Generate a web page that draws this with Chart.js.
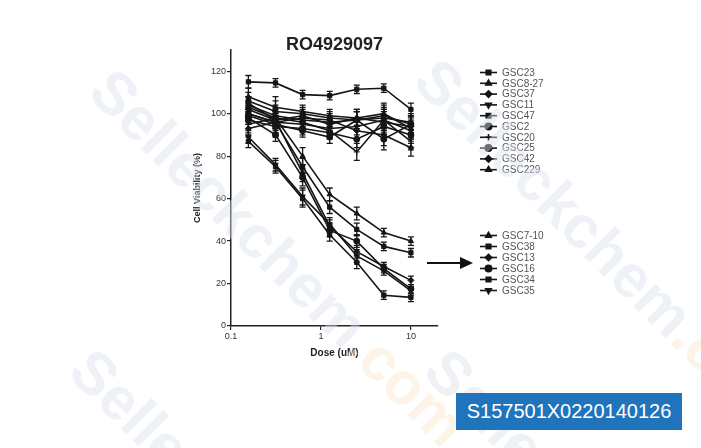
<!DOCTYPE html>
<html>
<head>
<meta charset="utf-8">
<script src="https://cdn.jsdelivr.net/npm/chart.js@4.4.0/dist/chart.umd.min.js"></script>
<style>
  body { margin: 0; background: #fff; font-family: "Liberation Sans", Arial, sans-serif; }
  #wrap { position: relative; width: 701px; height: 448px; overflow: hidden; }
  .wm { position: absolute; font-family: "Liberation Sans Narrow", "Liberation Sans", Arial, sans-serif; font-weight: bold; font-size: 60px;
        color: rgba(218, 226, 238, 0.45); transform-origin: 0 0; transform: rotate(45deg); white-space: nowrap; pointer-events: none; }
  .wm span { color: rgba(250, 228, 200, 0.45); }
  #badge { position: absolute; left: 456px; top: 393px; width: 226px; height: 37px; background: #1f74bb;
           color: #fff; font-size: 20px; line-height: 37px; text-align: center; }
</style>
</head>
<body>
<div id="wrap">
  <canvas id="chart" width="701" height="448"></canvas>
  <div class="wm" style="left:125px; top:55px;">Selleckchem<span>.com</span></div>
  <div class="wm" style="left:450px; top:45px;">Selleckchem<span>.com</span></div>
  <div class="wm" style="left:105px; top:335px;">Selleckchem<span>.com</span></div>
  <div class="wm" style="left:460px; top:335px;">Selleckchem<span>.com</span></div>
  <div id="badge">S157501X0220140126</div>
</div>
<script>
// doses in uM (x axis, log scale)
const doses = [0.156, 0.3125, 0.625, 1.25, 2.5, 5, 10]
const xTicks = [0.1, 1, 10]
const yTicks = [0, 20, 40, 60, 80, 100, 120]

// resistant lines (top legend group)
const groupA = ['GSC23', 'GSC8-27', 'GSC37', 'GSC11', 'GSC47', 'GSC2', 'GSC20', 'GSC25', 'GSC42', 'GSC229']
// sensitive lines (bottom legend group)
const groupB = ['GSC7-10', 'GSC38', 'GSC13', 'GSC16', 'GSC34', 'GSC35']

// viability (%)
const gsc23 = [115, 114.5, 109, 108.5, 111.5, 112, 102]
const gsc827 = [104, 99, 97, 96, 97, 98, 96]
const gsc37 = [102, 97, 99, 95, 98, 96, 94]
const gsc11 = [100, 96, 95, 93, 94, 97, 92]
const gsc47 = [106, 101, 100, 98, 97, 99, 95]
const gsc2 = [97, 94, 93, 91, 88, 94, 90]
const gsc20 = [95, 98, 96, 92, 82, 97, 87]
const gsc25 = [99, 95, 92, 89, 97, 88, 95]
const gsc42 = [93, 96, 98, 97, 92, 90, 84]
const gsc229 = [108, 103, 101, 99, 98, 100, 93]
const gsc710 = [103, 98, 80, 62, 53, 44, 40]
const gsc38 = [100, 96, 75, 56, 45.5, 37.5, 34.5]
const gsc13 = [105, 97, 72, 47, 35, 28, 21.5]
const gsc16 = [98, 90, 70, 45, 40, 27, 17.5]
const gsc34 = [87, 75, 60, 43, 30, 14.5, 13.5]
const gsc35 = [89, 76, 61, 48, 33, 26, 16.5]

// error bars (+/- %)
const err23 = [3, 2, 2, 2, 2, 2, 3]
const errA = [4, 5, 3, 3, 4, 5, 4]
const errB = [3, 3, 4, 3, 3, 2, 2]

const seriesA = [gsc23, gsc827, gsc37, gsc11, gsc47, gsc2, gsc20, gsc25, gsc42, gsc229]
const seriesB = [gsc710, gsc38, gsc13, gsc16, gsc34, gsc35]
const stylesA = ['rect', 'triangle', 'rectRot', 'triangle', 'rect', 'circle', 'cross', 'circle', 'rectRot', 'triangle']
const rotA = [0, 0, 0, 180, 0, 0, 0, 0, 0, 0]
const stylesB = ['triangle', 'rect', 'rectRot', 'circle', 'rect', 'triangle']
const rotB = [0, 0, 0, 0, 0, 180]

const makeSet = (label, vals, style, rot, err) => ({
  label: label,
  data: vals.map((v, i) => ({ x: doses[i], y: v })),
  err: err,
  borderColor: '#151515',
  backgroundColor: '#151515',
  borderWidth: 1.6,
  pointStyle: style,
  rotation: rot,
  pointRadius: 3,
  pointBorderWidth: 1,
  group: groupA.includes(label) ? 'A' : 'B'
})

let datasets = []
seriesA.forEach((s, i) => datasets.push(makeSet(groupA[i], s, stylesA[i], rotA[i], i == 0 ? err23 : errA)))
seriesB.forEach((s, i) => datasets.push(makeSet(groupB[i], s, stylesB[i], rotB[i], errB)))

// error bars drawn through the scales
const errorBars = {
  id: 'errorBars',
  beforeDatasetsDraw(chart) {
    const { ctx, scales: { x, y } } = chart
    ctx.save()
    ctx.strokeStyle = '#151515'
    ctx.lineWidth = 1.3
    chart.data.datasets.forEach(ds => {
      ds.data.forEach((p, i) => {
        const px = x.getPixelForValue(p.x)
        const top = y.getPixelForValue(p.y + ds.err[i])
        const bot = y.getPixelForValue(p.y - ds.err[i])
        ctx.beginPath()
        ctx.moveTo(px, top); ctx.lineTo(px, bot)
        ctx.moveTo(px - 3, top); ctx.lineTo(px + 3, top)
        ctx.moveTo(px - 3, bot); ctx.lineTo(px + 3, bot)
        ctx.stroke()
      })
    })
    ctx.restore()
  }
}

// title, two legend groups and the arrow
const extras = {
  id: 'extras',
  afterDraw(chart) {
    const { ctx, chartArea } = chart
    ctx.save()
    ctx.fillStyle = '#222'
    ctx.font = 'bold 18px "Liberation Sans", Arial, sans-serif'
    ctx.textAlign = 'center'
    ctx.textBaseline = 'middle'
    ctx.fillText('RO4929097', (chartArea.left + chartArea.right) / 2, 45)

    const drawLegend = (group, y0, step) => {
      let row = 0
      chart.data.datasets.forEach(ds => {
        if (ds.group != group) return
        const y = y0 + row * step
        ctx.strokeStyle = '#151515'
        ctx.lineWidth = 1.6
        ctx.beginPath(); ctx.moveTo(480, y); ctx.lineTo(497, y); ctx.stroke()
        ctx.fillStyle = '#151515'
        Chart.helpers.drawPoint(ctx, { pointStyle: ds.pointStyle, rotation: ds.rotation, radius: 3.2, borderWidth: 1 }, 488.5, y)
        ctx.fillStyle = '#555'
        ctx.font = '10px "Liberation Sans", Arial, sans-serif'
        ctx.textAlign = 'left'
        ctx.fillText(ds.label, 502, y + 0.5)
        row++
      })
    }
    drawLegend('A', 72.5, 10.8)
    drawLegend('B', 235.5, 11)

    // arrow
    ctx.strokeStyle = '#111'
    ctx.lineWidth = 2
    ctx.beginPath(); ctx.moveTo(427, 263); ctx.lineTo(462, 263); ctx.stroke()
    ctx.fillStyle = '#111'
    ctx.beginPath(); ctx.moveTo(473, 263); ctx.lineTo(460, 257); ctx.lineTo(460, 269); ctx.closePath(); ctx.fill()
    ctx.restore()
  }
}

new Chart(document.getElementById('chart'), {
  type: 'line',
  data: { datasets: datasets },
  plugins: [errorBars, extras],
  options: {
    responsive: false,
    animation: false,
    layout: { padding: { left: 191, right: 263, top: 50, bottom: 86 } },
    plugins: { legend: { display: false }, tooltip: { enabled: false } },
    scales: {
      x: {
        type: 'logarithmic',
        min: 0.1,
        max: 20,
        afterBuildTicks: s => { s.ticks = xTicks.map(v => ({ value: v })) },
        afterFit: s => { s.height = 36 },
        ticks: {
          color: '#333',
          font: { size: 9, family: '"Liberation Sans", Arial, sans-serif' },
          padding: 1,
          maxRotation: 0,
          callback: v => String(v)
        },
        grid: { drawOnChartArea: false, drawTicks: true, tickLength: 4, color: '#222', lineWidth: 1.2 },
        border: { display: true, color: '#222', width: 1.5 },
        title: {
          display: true, text: 'Dose (uM)', color: '#222',
          font: { size: 10, weight: 'bold', family: '"Liberation Sans", Arial, sans-serif' },
          padding: { top: 0, bottom: 3 }
        }
      },
      y: {
        min: 0,
        max: 130,
        afterBuildTicks: s => { s.ticks = yTicks.map(v => ({ value: v })) },
        afterFit: s => { s.width = 40 },
        ticks: {
          color: '#333',
          font: { size: 9, family: '"Liberation Sans", Arial, sans-serif' },
          padding: 1
        },
        grid: { drawOnChartArea: false, drawTicks: true, tickLength: 4, color: '#222', lineWidth: 1.2 },
        border: { display: true, color: '#222', width: 1.5 },
        title: {
          display: true, text: 'Cell Viability (%)', color: '#222',
          font: { size: 9, weight: 'bold', family: '"Liberation Sans", Arial, sans-serif' },
          padding: { top: 1, bottom: 0 }
        }
      }
    }
  }
})
</script>
</body>
</html>
